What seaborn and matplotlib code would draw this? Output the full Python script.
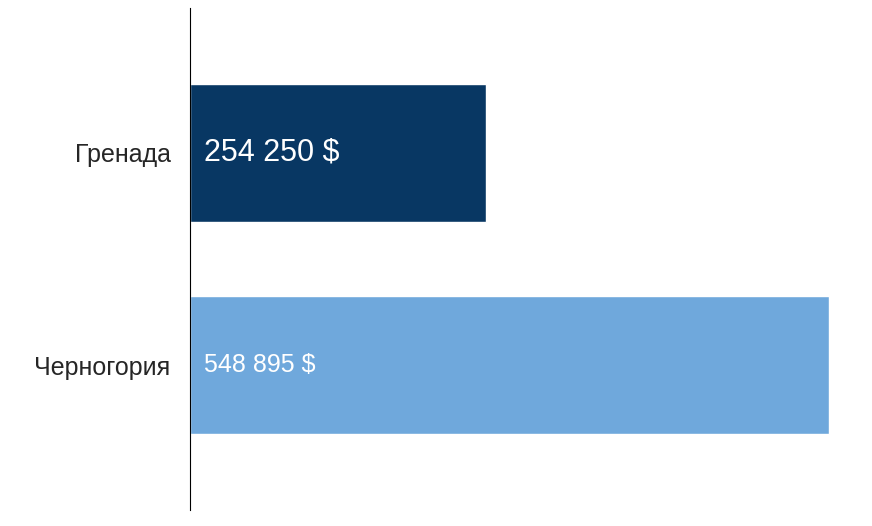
import matplotlib
matplotlib.use("Agg")
import matplotlib.pyplot as plt
import pandas as pd
import seaborn as sns

countries = ["Гренада", "Черногория"]
values = [254250, 548895]
labels = ["254 250 $", "548 895 $"]
colors = ["#083763", "#6fa8dc"]
label_sizes = [22, 18]

sns.set_style("white")
plt.rcParams["font.family"] = ["Liberation Sans", "DejaVu Sans"]

df = pd.DataFrame({"country": countries, "value": values})

fig = plt.figure(figsize=(8.72, 5.26), dpi=100)
ax = fig.add_axes([190 / 872, 16 / 526, 682 / 872, 502 / 526])
sns.barplot(data=df, x="value", y="country", hue="country", palette=colors,
            width=0.648, legend=False, ax=ax, saturation=1)

ax.set_xlim(0, 585840)
ax.set_ylim(1.68, -0.68)
for i, (v, lab) in enumerate(zip(values, labels)):
    ax.text(12000, i, lab, color="white", fontsize=label_sizes[i], va="center", ha="left")

ax.set_xlabel("")
ax.set_ylabel("")
ax.set_xticks([])
ax.tick_params(axis="y", labelsize=18, length=0, pad=14)
for side in ["top", "right", "bottom"]:
    ax.spines[side].set_visible(False)
ax.spines["left"].set_color("black")
ax.spines["left"].set_linewidth(0.8)

fig.savefig("out.png", dpi=100)
